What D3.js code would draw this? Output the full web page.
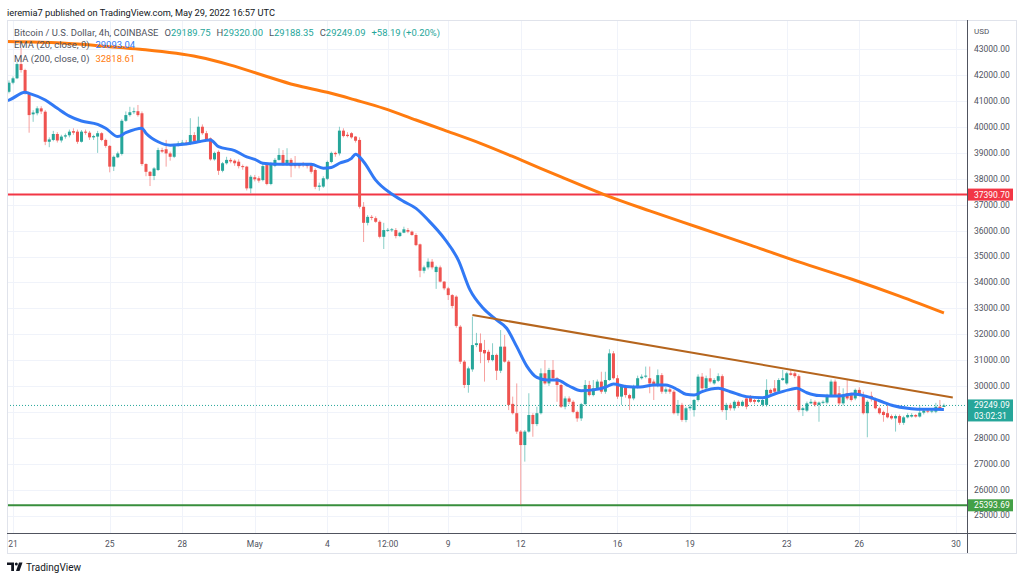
<!DOCTYPE html>
<html><head><meta charset="utf-8">
<script src="https://cdn.jsdelivr.net/npm/d3@7"></script>
<style>body{margin:0;background:#fff;} svg text{font-family:Roboto,"Noto Sans","DejaVu Sans",sans-serif;}</style>
</head><body><svg id="chart" width="1024" height="581"></svg>
<script>
// ---------- DATA ----------
const candleStart = "2022-04-20T16:00:00Z";   // time of first candle
const candleHours = 4;                          // 4h candles
// [open, high, low, close] in thousands of USD
const candles = [
[41.25,41.45,41.15,41.35],[41.36,41.8,41.3,41.71],[41.71,41.95,41.65,41.88],[41.88,42.5,41.85,42.43],[42.43,43.05,42.1,42.2],
[42.2,42.25,41.25,41.31],[41.31,41.35,39.78,40.46],[40.49,40.65,40.2,40.56],[40.53,40.8,40.45,40.72],[40.72,40.8,40.5,40.6],
[40.59,40.65,39.3,39.43],[39.43,39.6,39.22,39.52],[39.5,39.85,39.45,39.73],[39.73,39.8,39.4,39.48],[39.48,39.7,39.4,39.63],
[39.63,39.75,39.55,39.68],[39.68,39.9,39.6,39.82],[39.84,39.95,39.7,39.78],[39.82,39.9,39.35,39.43],[39.43,39.88,39.4,39.82],
[39.82,39.9,39.7,39.78],[39.78,39.85,39.5,39.6],[39.6,39.7,39.5,39.65],[39.63,39.85,39.0,39.76],[39.76,39.8,39.45,39.5],
[39.5,39.55,39.2,39.27],[39.27,39.3,38.25,38.47],[38.47,38.9,38.3,38.85],[38.83,39.05,38.8,38.98],[38.96,40.3,38.9,40.24],
[40.24,40.6,40.2,40.46],[40.46,40.78,40.4,40.57],[40.57,40.75,40.5,40.61],[40.61,40.85,40.4,40.46],[40.53,40.6,38.5,38.57],
[38.57,38.6,38.1,38.27],[38.27,38.3,37.72,38.11],[38.11,38.45,37.95,38.4],[38.34,39.2,38.3,39.11],[39.11,39.2,39.0,39.05],
[39.14,39.5,38.47,38.98],[38.98,39.05,38.7,38.85],[38.85,39.35,38.8,39.3],[39.3,39.45,39.25,39.36],[39.36,39.5,39.3,39.4],
[39.4,39.5,39.3,39.35],[39.37,40.34,39.3,39.69],[39.69,39.8,39.35,39.44],[39.44,40.4,39.4,40.01],[40.01,40.1,39.7,39.76],
[39.76,39.85,39.45,39.5],[39.56,39.6,38.7,38.75],[38.75,39.05,38.7,39.0],[39.04,39.1,38.15,38.31],[38.31,38.65,38.25,38.6],
[38.6,38.85,38.55,38.73],[38.73,38.8,38.6,38.67],[38.7,38.75,38.5,38.6],[38.66,38.75,38.4,38.49],[38.49,38.55,38.35,38.45],
[38.47,38.5,37.55,37.63],[37.63,38.15,37.44,38.08],[38.06,38.15,37.9,37.98],[38.02,38.1,37.85,37.93],[37.95,38.6,37.9,38.49],
[38.53,38.6,37.75,37.8],[37.8,38.65,37.75,38.56],[38.5,38.8,38.45,38.73],[38.73,39.18,38.7,38.92],[38.92,39.11,38.5,38.53],
[38.53,39.18,38.5,38.73],[38.73,38.8,38.06,38.49],[38.57,38.88,38.4,38.49],[38.55,38.6,38.4,38.49],[38.6,38.65,38.45,38.53],
[38.57,38.6,38.4,38.49],[38.53,38.6,38.2,38.27],[38.34,38.4,37.6,37.69],[37.69,37.85,37.54,37.74],[37.7,38.1,37.65,38.02],
[38.0,38.7,37.95,38.65],[38.65,39.05,38.6,39.0],[39.0,39.05,38.85,38.95],[38.98,40.01,38.9,39.86],[39.86,39.95,39.6,39.65],
[39.7,39.8,39.6,39.65],[39.76,39.8,39.55,39.6],[39.63,39.65,39.4,39.47],[39.5,39.6,36.85,36.92],[36.92,37.1,35.56,36.3],
[36.3,36.6,36.2,36.53],[36.53,36.6,36.4,36.5],[36.48,36.55,36.3,36.34],[36.34,36.4,35.7,35.76],[35.76,36.3,35.29,36.02],
[36.0,36.1,35.95,36.03],[36.02,36.1,35.95,36.05],[36.02,36.1,35.7,35.79],[35.79,35.95,35.75,35.92],[35.92,36.15,35.9,36.05],
[36.02,36.1,35.9,35.96],[35.96,36.0,35.8,35.83],[35.83,35.9,35.4,35.44],[35.47,35.5,34.2,34.45],[34.45,34.65,34.35,34.58],
[34.58,34.93,34.5,34.8],[34.8,34.9,34.5,34.58],[34.4,34.65,33.75,34.6],[34.58,34.65,34.0,34.03],[34.03,34.05,33.7,33.77],
[33.77,33.83,33.32,33.51],[33.51,33.55,33.0,33.09],[33.45,33.5,32.25,32.32],[32.29,32.35,30.85,30.94],[30.94,31.0,29.92,30.04],
[30.04,30.75,29.74,30.68],[30.64,32.68,30.55,31.58],[31.58,32.05,31.5,31.65],[31.65,32.03,30.88,31.32],[31.39,31.78,30.17,31.26],
[31.32,31.4,30.9,31.0],[31.0,31.65,30.95,31.2],[31.2,31.25,30.23,30.59],[30.59,32.16,30.5,31.52],[31.52,31.97,30.9,30.94],
[30.94,31.0,29.07,29.27],[29.31,29.59,28.9,28.95],[28.95,30.1,28.15,28.24],[28.24,28.3,25.41,27.72],[27.72,28.3,27.08,28.24],
[28.24,29.72,28.2,28.88],[28.88,28.95,28.04,28.53],[28.53,29.2,28.45,28.95],[28.95,30.68,28.9,30.49],[30.49,31.0,30.05,30.1],
[30.1,30.7,30.0,30.62],[30.62,31.0,30.25,30.3],[30.3,30.35,29.39,30.04],[30.04,30.1,29.15,29.2],[29.2,29.6,29.1,29.52],
[29.52,29.6,29.3,29.39],[29.39,29.45,28.95,29.0],[29.0,29.05,28.62,28.75],[28.75,29.35,28.65,29.3],[29.3,30.23,29.25,30.04],
[30.04,30.2,29.6,29.65],[29.65,30.23,29.6,29.91],[29.91,30.25,29.85,30.17],[30.17,30.55,29.7,29.78],[29.78,30.55,29.7,30.23],
[30.23,31.42,30.2,31.26],[31.26,31.35,30.25,30.3],[30.3,30.42,29.5,29.59],[29.59,30.05,29.27,29.97],[29.97,30.05,29.55,29.65],
[29.65,29.7,29.07,29.52],[29.52,30.05,29.45,29.97],[29.97,30.4,29.9,30.3],[30.3,30.45,30.25,30.36],[30.36,30.75,30.3,30.4],
[30.3,30.75,29.72,30.1],[30.17,30.25,29.46,30.04],[30.04,30.64,29.95,30.42],[30.42,30.5,29.7,29.78],[29.78,29.95,29.7,29.87],
[29.87,29.95,29.7,29.78],[29.78,29.85,28.9,28.95],[28.95,29.46,28.85,29.27],[29.27,29.35,28.62,28.69],[28.69,29.2,28.6,29.14],
[29.14,29.3,29.05,29.2],[29.07,29.5,28.82,29.46],[29.46,30.45,29.4,30.36],[30.36,30.5,29.85,29.91],[29.91,30.4,29.85,30.3],
[30.3,30.68,30.1,30.17],[30.1,30.3,30.05,30.23],[30.2,30.49,30.15,30.38],[30.38,30.45,29.0,29.07],[29.07,29.35,28.69,29.27],
[29.27,29.35,29.05,29.14],[29.14,29.45,29.05,29.39],[29.39,29.45,29.15,29.23],[29.23,29.45,29.2,29.39],[29.52,29.6,29.1,29.2],
[29.59,29.65,29.35,29.39],[29.46,29.5,29.3,29.39],[29.39,29.5,29.35,29.46],[29.27,29.5,29.2,29.46],[29.27,30.26,29.2,29.85],
[29.85,29.9,29.65,29.72],[29.91,30.23,29.7,29.78],[29.78,30.3,29.7,30.23],[30.23,30.62,30.2,30.3],[30.1,30.55,30.05,30.49],
[30.49,30.64,30.4,30.43],[30.49,30.55,30.3,30.38],[30.38,30.45,29.0,29.07],[29.07,29.2,28.84,29.14],[29.05,29.4,29.0,29.33],
[29.33,29.5,29.3,29.39],[29.39,29.45,29.2,29.27],[29.27,29.4,28.62,29.36],[29.36,29.45,29.3,29.39],[29.36,29.7,29.3,29.65],
[29.65,30.25,29.6,30.17],[30.17,30.25,29.6,29.65],[29.72,30.0,29.25,29.33],[29.33,29.91,29.25,29.65],[29.72,30.23,29.45,29.52],
[29.65,29.75,29.4,29.46],[29.52,29.9,29.45,29.85],[29.85,29.95,29.6,29.65],[29.59,29.78,28.9,28.95],[28.95,29.45,28.02,29.39],
[29.62,29.78,29.4,29.49],[29.49,29.55,29.1,29.14],[29.14,29.2,28.9,28.95],[29.0,29.05,28.62,28.88],[28.95,29.27,28.75,28.79],
[28.84,28.9,28.7,28.75],[28.75,28.9,28.24,28.84],[28.84,28.9,28.5,28.58],[28.58,28.85,28.5,28.79],[28.79,28.95,28.75,28.88],
[28.82,28.95,28.78,28.88],[28.88,28.92,28.78,28.82],[28.82,29.25,28.78,28.97],[28.97,29.1,28.9,29.05],[29.05,29.1,28.95,29.01],
[29.01,29.1,28.95,29.05],[29.01,29.35,28.95,29.2],[29.2,29.46,29.1,29.14],[29.18975,29.32,29.18835,29.24909]
];
// EMA(20): [candle index, value in thousands]
const emaPoints = [[0,41.0],[1,41.04],[5,41.34],[6,41.30],[10,41.04],[13,40.72],[16,40.42],[19,40.23],[23,40.10],[25,39.95],
[28,39.63],[30,39.78],[34,39.95],[35,39.76],[38,39.43],[41,39.30],[45,39.34],[48,39.43],[51,39.50],[53,39.24],[57,39.09],
[60,38.85],[62,38.75],[64,38.60],[68,38.56],[72,38.56],[76,38.56],[79,38.41],[81,38.44],[83,38.60],[86,38.79],[87,38.95],
[89,38.66],[92,37.95],[96,37.41],[99,37.12],[102,36.86],[105,36.41],[109,35.70],[112.5,34.86],[115.4,33.71],[118.7,33.0],
[122,32.55],[124.5,32.23],[127,31.52],[129.5,30.77],[132,30.33],[134.5,30.23],[137,30.23],[140,30.0],[143,29.82],[146,29.85],
[149,29.95],[151,30.08],[154,29.98],[157.6,29.96],[161,30.04],[164,30.04],[167,29.85],[169,29.68],[171,29.65],[173,29.78],
[177,29.91],[180,29.78],[184,29.59],[188,29.55],[191.5,29.72],[195,29.87],[196.5,29.91],[199,29.74],[202,29.63],[207,29.61],
[210.5,29.69],[214,29.59],[217,29.43],[220.5,29.24],[224,29.14],[227,29.10],[230.4,29.10],[233,29.09304]];
// MA(200)
const maPoints = [[0,43.3],[14,43.24],[26,43.10],[33.5,43.0],[48,42.70],[56,42.39],[64,42.0],[72,41.62],[80,41.34],[87,41.04],
[94,40.72],[102,40.27],[109,39.88],[118,39.37],[128,38.73],[138,38.07],[149,37.37],[160,36.76],[172.5,36.10],[185,35.44],
[197,34.79],[210,34.13],[222,33.47],[233,32.81861]];
// Drawn trend line: [candle index, value]
const trendLine = [[116,32.74],[235.2,29.56]];
// Horizontal levels (USD)
const levelValues = [37390.70, 25393.69];
const levelColors = ["#f23645", "#388e3c"];
const lastPrice = 29249.09;
const lastCountdown = "03:02:31";
// Axis ticks
const xTickDates = ["2022-04-21T00:00Z","2022-04-25T00:00Z","2022-04-28T00:00Z","2022-05-01T00:00Z","2022-05-04T00:00Z",
  "2022-05-06T12:00Z","2022-05-09T00:00Z","2022-05-12T00:00Z","2022-05-16T00:00Z","2022-05-19T00:00Z","2022-05-23T00:00Z",
  "2022-05-26T00:00Z","2022-05-30T00:00Z"];
const xTickLabels = ["21","25","28","May","4","12:00","9","12","16","19","23","26","30"];
const yTickValues = [25000,26000,27000,28000,29000,30000,31000,32000,33000,34000,35000,36000,37000,38000,39000,40000,41000,42000,43000];

// ---------- LAYOUT ----------
const plotL = 7, plotR = 967, plotT = 20, plotB = 533;
const UP = "#26a69a", DOWN = "#ef5350";
const svg = d3.select("#chart");
svg.append("rect").attr("width",1024).attr("height",581).attr("fill","#fff");

const x = d3.scaleUtc().domain([new Date("2022-04-21T00:00Z"), new Date("2022-05-30T00:00Z")]).range([13, 956]);
const y = d3.scaleLinear().domain([25, 43]).range([515.5, 49.3]);
const t0 = Date.parse(candleStart);
const tOf = i => new Date(t0 + i * candleHours * 3600e3);
const xi = i => x(tOf(i));

// clip
svg.append("clipPath").attr("id","plotclip").append("rect")
  .attr("x",plotL).attr("y",plotT).attr("width",plotR-plotL).attr("height",plotB-plotT);

// grid
const grid = svg.append("g").attr("clip-path","url(#plotclip)");
grid.selectAll("line.h").data(yTickValues).join("line")
  .attr("x1",plotL).attr("x2",plotR).attr("y1",d=>Math.round(y(d/1000))+0.5).attr("y2",d=>Math.round(y(d/1000))+0.5)
  .attr("stroke","#f0f3fa").attr("stroke-width",1);
grid.selectAll("line.v").data(xTickDates).join("line")
  .attr("x1",d=>Math.round(x(new Date(d)))+0.5).attr("x2",d=>Math.round(x(new Date(d)))+0.5)
  .attr("y1",plotT).attr("y2",plotB).attr("stroke","#f0f3fa").attr("stroke-width",1);

const plot = svg.append("g").attr("clip-path","url(#plotclip)");

// horizontal levels
levelValues.forEach((v,k)=>{
  plot.append("line").attr("x1",plotL).attr("x2",plotR).attr("y1",y(v/1000)).attr("y2",y(v/1000))
    .attr("stroke",levelColors[k]).attr("stroke-width",2);
});
// last price dotted line
plot.append("line").attr("x1",plotL).attr("x2",plotR).attr("y1",y(lastPrice/1000)).attr("y2",y(lastPrice/1000))
  .attr("stroke",UP).attr("stroke-width",1).attr("stroke-dasharray","1,2");

// MA line
const lineGen = d3.line().x(d=>xi(d[0])).y(d=>y(d[1])).curve(d3.curveMonotoneX);
plot.append("path").datum(maPoints).attr("d",lineGen).attr("fill","none").attr("stroke","#ff7b0f").attr("stroke-width",3);

// candles
const cg = plot.append("g");
cg.selectAll("line.wick").data(candles).join("line")
  .attr("x1",(d,i)=>xi(i)).attr("x2",(d,i)=>xi(i))
  .attr("y1",d=>y(d[1])).attr("y2",d=>y(d[2]))
  .attr("stroke",d=>d[3]>=d[0]?UP:DOWN).attr("stroke-opacity",0.55).attr("stroke-width",1);
cg.selectAll("rect.body").data(candles).join("rect")
  .attr("x",(d,i)=>xi(i)-1.5).attr("width",3)
  .attr("y",d=>y(Math.max(d[0],d[3])))
  .attr("height",d=>Math.max(1, Math.abs(y(d[0])-y(d[3]))))
  .attr("fill",d=>d[3]>=d[0]?UP:DOWN);

// EMA line
plot.append("path").datum(emaPoints).attr("d",lineGen).attr("fill","none").attr("stroke","#3179f5").attr("stroke-width",3)
  .attr("stroke-linejoin","round");

// trend line
plot.append("line").attr("x1",xi(trendLine[0][0])).attr("y1",y(trendLine[0][1]))
  .attr("x2",xi(trendLine[1][0])).attr("y2",y(trendLine[1][1]))
  .attr("stroke","#b5651d").attr("stroke-width",2);

// frame & axes
svg.append("rect").attr("x",plotL+0.5).attr("y",plotT+0.5).attr("width",1016-plotL).attr("height",553-plotT)
  .attr("fill","none").attr("stroke","#e0e3eb");
svg.append("line").attr("x1",plotR+0.5).attr("x2",plotR+0.5).attr("y1",plotT).attr("y2",553).attr("stroke","#50535e").attr("stroke-width",1);
svg.append("line").attr("x1",plotL).attr("x2",1016).attr("y1",plotB+0.5).attr("y2",plotB+0.5).attr("stroke","#50535e").attr("stroke-width",1);

// badges (price labels on the axis)
const fs = 8.5;
const badges = [
  {v: levelValues[0], color: levelColors[0], lines: [d3.format(".2f")(levelValues[0])]},
  {v: levelValues[1], color: "#43a047", lines: [d3.format(".2f")(levelValues[1])]},
  {v: lastPrice, color: UP, lines: [d3.format(".2f")(lastPrice), lastCountdown]}
];
badges.forEach(b=>{ b.top = y(b.v/1000) - 6; b.h = b.lines.length>1 ? 22 : 12; });

// y axis labels (hidden where a price badge covers them)
svg.append("text").attr("x",974).attr("y",31).attr("dy","0.35em").attr("font-size",8).attr("fill","#50535e").text("USD");
const visibleY = yTickValues.filter(v=>{
  const yy = y(v/1000);
  return !badges.some(b => yy > b.top - 1 && yy < b.top + b.h + 1);
});
svg.selectAll("text.ylab").data(visibleY).join("text")
  .attr("x",974).attr("y",d=>y(d/1000)).attr("dy","0.35em").attr("font-size",fs).attr("fill","#50535e")
  .text(d=>d3.format(".2f")(d));
// x axis labels
svg.selectAll("text.xlab").data(xTickDates).join("text")
  .attr("x",(d)=>x(new Date(d))).attr("y",544.5).attr("dy","0.35em").attr("text-anchor","middle")
  .attr("font-size",fs).attr("fill","#50535e").text((d,i)=>xTickLabels[i]);

badges.forEach(b=>{
  const cy = y(b.v/1000);
  svg.append("rect").attr("x",968).attr("y",b.top).attr("width",45).attr("height",b.h).attr("fill",b.color);
  b.lines.forEach((t,k)=>{
    svg.append("text").attr("x",974).attr("y",cy+k*10.5).attr("dy","0.35em").attr("font-size",fs)
      .attr("fill","#fff").text(t);
  });
});

// header & legend
svg.append("text").attr("x",7).attr("y",12.5).attr("dy","0.35em").attr("font-size",9.25).attr("fill","#131722")
  .text("ieremia7 published on TradingView.com, May 29, 2022 16:57 UTC");
const last = candles[candles.length-1];
const lfs = 9.45;
const lg = svg.append("text").attr("x",14).attr("y",32.5).attr("dy","0.35em").attr("font-size",lfs).attr("fill","#50535e");
lg.append("tspan").text("Bitcoin / U.S. Dollar, 4h, COINBASE");
[["O",last[0]],["H",last[1]],["L",last[2]],["C",last[3]]].forEach(([k,v])=>{
  lg.append("tspan").attr("dx",6).attr("fill","#50535e").text(k);
  lg.append("tspan").attr("fill",UP).text(d3.format(".2f")(v*1000));
});
lg.append("tspan").attr("dx",6).attr("fill",UP).text("+58.19 (+0.20%)");
const e = svg.append("text").attr("x",14).attr("y",45).attr("dy","0.35em").attr("font-size",lfs).attr("fill","#50535e");
e.append("tspan").text("EMA (20, close, 0)");
e.append("tspan").attr("dx",6).attr("fill","#3179f5").text(d3.format(".2f")(emaPoints[emaPoints.length-1][1]*1000));
const m = svg.append("text").attr("x",14).attr("y",58.3).attr("dy","0.35em").attr("font-size",lfs).attr("fill","#50535e");
m.append("tspan").text("MA (200, close, 0)");
m.append("tspan").attr("dx",6).attr("fill","#ff7b0f").text(d3.format(".2f")(maPoints[maPoints.length-1][1]*1000));

// footer logo
const logo = svg.append("g").attr("fill","#131722");
logo.append("path").attr("d","M7,562.5 H14 V571 H11.2 V565 H7 Z");
logo.append("circle").attr("cx",16.3).attr("cy",564).attr("r",1.5);
logo.append("path").attr("d","M19,562.5 H22.5 L19.5,571 H16 Z");
svg.append("text").attr("x",26).attr("y",567).attr("dy","0.35em").attr("font-size",10).attr("fill","#131722").text("TradingView");
</script></body></html>
